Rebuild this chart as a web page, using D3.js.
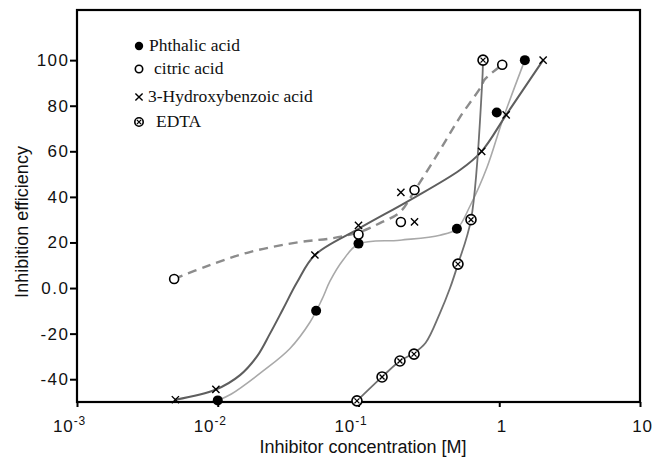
<!DOCTYPE html>
<html>
<head>
<meta charset="utf-8">
<script src="https://cdn.jsdelivr.net/npm/d3@7/dist/d3.min.js"></script>
<style>
    body { margin: 0; background: #fff; }
    #chart-area { width: 666px; height: 458px; }
</style>
</head>
<body>
<div id="chart-area"></div>
<script>
// marker values: [concentration (M), inhibition efficiency]
const phthalicPoints = [[0.01, -49.3], [0.05, -10], [0.1, 19.5], [0.5, 26], [0.96, 77], [1.52, 100]];
const citricPoints = [[0.0049, 4], [0.1, 23.5], [0.2, 29], [0.25, 43], [1.05, 98]];
const hydroxyPoints = [[0.005, -49], [0.0097, -44.5], [0.049, 14.5], [0.1, 27.5], [0.2, 42], [0.25, 29], [0.75, 60], [1.12, 76], [2.05, 100]];
const edtaPoints = [[0.0975, -49.5], [0.147, -39], [0.197, -32], [0.248, -29], [0.509, 10.5], [0.63, 30], [0.767, 100]];

// the fitted curves drawn through them (knots)
const phthalicCurve = [[0.01, -49.3], [0.0125, -46.5], [0.0209, -36.5], [0.0326, -26.5], [0.0452, -15], [0.055, -5],
    [0.0627, 3], [0.0777, 12.3], [0.1, 19.3], [0.197, 21], [0.379, 23.2], [0.5, 26], [0.62, 36], [0.819, 53], [1.06, 74], [1.52, 100]];
const citricCurve = [[0.0049, 4], [0.0084, 9.6], [0.0169, 15.8], [0.0384, 20.2], [0.0659, 21.9], [0.102, 24.6], [0.142, 28.5],
    [0.197, 33.3], [0.252, 43], [0.379, 60.5], [0.526, 75], [0.754, 89], [0.78, 91.2], [1.05, 98]];
const hydroxyCurve = [[0.005, -49], [0.0097, -44.5], [0.0144, -38.2], [0.019, -30], [0.0235, -20], [0.0291, -9.2],
    [0.0366, 2.5], [0.049, 14.5], [0.1, 26], [0.232, 38.6], [0.526, 51.8], [0.75, 60], [1.12, 76], [2.05, 100]];
const edtaCurve = [[0.0975, -49.5], [0.147, -39], [0.197, -32], [0.248, -28.5], [0.3, -24], [0.379, -11], [0.447, 0],
    [0.509, 10.5], [0.63, 30], [0.754, 88.5], [0.767, 100]];

const xTickValues = [0.001, 0.01, 0.1, 1, 10];
const xTickBase = ["10", "10", "10", "1", "10"];
const xTickExp = ["-3", "-2", "-1", "", ""];
const yTickValues = [-40, -20, 0, 20, 40, 60, 80, 100];
const yTickLabels = ["-40", "-20", "0.0", "20", "40", "60", "80", "100"];

const legendLabels = ["Phthalic acid", "citric acid", "3-Hydroxybenzoic acid", "EDTA"];


class InhibitionChart {

    constructor(parentElement) {
        this.parentElement = parentElement;
        this.series = [
            {name: legendLabels[0], points: phthalicPoints, curve: phthalicCurve, marker: "filled", color: "#a9a9a9", width: 1.6, dash: null},
            {name: legendLabels[1], points: citricPoints, curve: citricCurve, marker: "open", color: "#8c8c8c", width: 2.4, dash: "9,6"},
            {name: legendLabels[2], points: hydroxyPoints, curve: hydroxyCurve, marker: "cross", color: "#5e5e5e", width: 2, dash: null},
            {name: legendLabels[3], points: edtaPoints, curve: edtaCurve, marker: "edta", color: "#707070", width: 1.8, dash: null}
        ];
        this.initVis();
    }

    initVis() {
        let vis = this;

        vis.margin = {top: 10, right: 26, bottom: 56, left: 77};
        vis.width = 666 - vis.margin.left - vis.margin.right;
        vis.height = 458 - vis.margin.top - vis.margin.bottom;

        vis.svg = d3.select("#" + vis.parentElement).append("svg")
            .attr("width", 666)
            .attr("height", 458)
            .append("g")
            .attr("transform", `translate(${vis.margin.left}, ${vis.margin.top})`);

        vis.x = d3.scaleLog().domain([0.001, 10]).range([0, vis.width]);
        vis.y = d3.scaleLinear().domain([-50, 122]).range([vis.height, 0]);

        // y axis
        let yAxis = d3.axisLeft(vis.y).tickValues(yTickValues).tickSize(7).tickPadding(0.5)
            .tickFormat((d, i) => yTickLabels[i]);
        vis.svg.append("g").attr("class", "y-axis").call(yAxis)
            .call(g => g.select(".domain").remove())
            .call(g => g.selectAll("line").attr("stroke", "#000").attr("stroke-width", 2))
            .call(g => g.selectAll("text").style("font-family", "Liberation Sans, Arial, sans-serif")
                .style("font-size", "17px").style("letter-spacing", "1.5px").attr("fill", "#111"));

        // x axis
        let xAxis = d3.axisBottom(vis.x).tickValues(xTickValues).tickSize(5).tickFormat("");
        let xg = vis.svg.append("g").attr("class", "x-axis")
            .attr("transform", `translate(0, ${vis.height})`)
            .call(xAxis)
            .call(g => g.select(".domain").remove())
            .call(g => g.selectAll("line").attr("stroke", "#000").attr("stroke-width", 2));

        xg.selectAll(".tick").append("text")
            .attr("y", 30)
            .attr("x", 2)
            .attr("fill", "#111")
            .style("font-family", "Liberation Sans, Arial, sans-serif")
            .style("font-size", "17px")
            .style("letter-spacing", "0.8px")
            .each(function (d, i) {
                let t = d3.select(this);
                if (xTickExp[i] === "") {
                    t.attr("text-anchor", "middle").text(xTickBase[i]);
                } else {
                    t.attr("x", -8);
                    t.append("tspan").text(xTickBase[i]);
                    t.append("tspan").attr("dy", -7).style("font-size", "12px").text(xTickExp[i]);
                }
            });

        // frame
        vis.svg.append("rect")
            .attr("width", vis.width)
            .attr("height", vis.height)
            .attr("fill", "none")
            .attr("stroke", "#000")
            .attr("stroke-width", 2.2);

        // axis titles
        vis.svg.append("text")
            .attr("x", 286)
            .attr("y", 443)
            .attr("text-anchor", "middle")
            .style("font-family", "Liberation Sans, Arial, sans-serif")
            .style("font-size", "18px")
            .attr("fill", "#111")
            .text("Inhibitor concentration [M]");

        vis.svg.append("text")
            .attr("transform", `translate(${-49}, ${212}) rotate(-90)`)
            .attr("text-anchor", "middle")
            .style("font-family", "Liberation Sans, Arial, sans-serif")
            .style("font-size", "18px")
            .attr("fill", "#111")
            .text("Inhibition efficiency");

        vis.line = d3.line()
            .x(d => vis.x(d[0]))
            .y(d => vis.y(d[1]))
            .curve(d3.curveCatmullRom.alpha(0.5));

        vis.drawLegend();
        vis.updateVis();
    }

    drawMarker(g, type, r) {
        if (type === "filled") {
            g.append("circle").attr("r", r).attr("fill", "#000");
        } else if (type === "open") {
            g.append("circle").attr("r", r - 0.5).attr("fill", "#fff").attr("stroke", "#000").attr("stroke-width", 1.6);
        } else if (type === "cross") {
            let s = r * 0.8;
            g.append("path").attr("d", `M${-s},${-s}L${s},${s}M${-s},${s}L${s},${-s}`)
                .attr("stroke", "#000").attr("stroke-width", 1.4).attr("fill", "none");
        } else {
            let s = r * 0.5;
            g.append("circle").attr("r", r).attr("fill", "#fff").attr("stroke", "#000").attr("stroke-width", 1.6);
            g.append("path").attr("d", `M${-s},${-s}L${s},${s}M${-s},${s}L${s},${-s}`)
                .attr("stroke", "#000").attr("stroke-width", 1.3);
        }
    }

    drawLegend() {
        let vis = this;
        let rows = [36, 59, 87, 112];
        let textX = [72, 77, 71, 79];

        vis.series.forEach((s, i) => {
            let g = vis.svg.append("g").attr("transform", `translate(${62}, ${rows[i]})`);
            vis.drawMarker(g, s.marker, s.marker === "cross" ? 4.5 : 4.2);
            vis.svg.append("text")
                .attr("x", textX[i])
                .attr("y", rows[i] + 5)
                .style("font-family", "Liberation Serif, Times New Roman, serif")
                .style("font-size", "17.5px")
                .attr("fill", "#111")
                .text(s.name);
        });
    }

    updateVis() {
        let vis = this;

        vis.svg.selectAll("path.curve")
            .data(vis.series)
            .join("path")
            .attr("class", "curve")
            .attr("d", d => vis.line(d.curve))
            .attr("fill", "none")
            .attr("stroke", d => d.color)
            .attr("stroke-width", d => d.width)
            .attr("stroke-dasharray", d => d.dash);

        vis.series.forEach(s => {
            vis.svg.selectAll(null)
                .data(s.points)
                .join("g")
                .attr("transform", d => `translate(${vis.x(d[0])}, ${vis.y(d[1])})`)
                .each(function () {
                    vis.drawMarker(d3.select(this), s.marker, s.marker === "cross" ? 4.5 : 5);
                });
        });
    }
}

new InhibitionChart("chart-area");
</script>
</body>
</html>
